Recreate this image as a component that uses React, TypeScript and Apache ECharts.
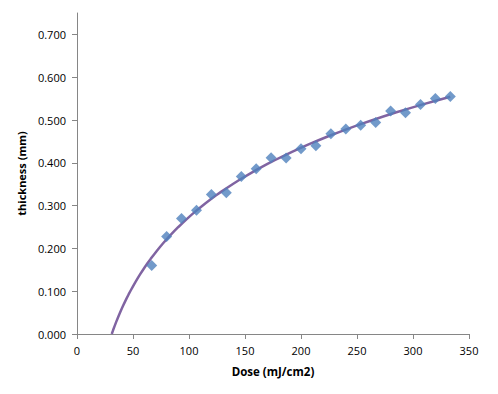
import React, { useEffect, useRef } from "react";
import * as echarts from "echarts";

const doses = [66.7, 80, 93.3, 106.7, 120, 133.3, 146.7, 160, 173.3, 186.7, 200, 213.3, 226.7, 240, 253.3, 266.7, 280, 293.3, 306.7, 320, 333.3];
const thickness = [0.160, 0.228, 0.270, 0.289, 0.326, 0.330, 0.368, 0.386, 0.412, 0.411, 0.433, 0.440, 0.468, 0.479, 0.488, 0.494, 0.521, 0.517, 0.536, 0.550, 0.555];
const yTicks = [0, 0.1, 0.2, 0.3, 0.4, 0.5, 0.6, 0.7];
const xTitle = "Dose (mJ/cm2)";
const yTitle = "thickness (mm)";

// logarithmic least-squares trendline (as in the spreadsheet), clipped at y = 0
function logFit(xs: number[], ys: number[]) {
  const n = xs.length;
  const lx = xs.map((v) => Math.log(v));
  const mx = lx.reduce((s, v) => s + v, 0) / n;
  const my = ys.reduce((s, v) => s + v, 0) / n;
  let sxy = 0;
  let sxx = 0;
  for (let i = 0; i < n; i++) {
    sxy += (lx[i] - mx) * (ys[i] - my);
    sxx += (lx[i] - mx) * (lx[i] - mx);
  }
  const a = sxy / sxx;
  const b = my - a * mx;
  return { a, b };
}

export default function App() {
  const ref = useRef<HTMLDivElement>(null);
  useEffect(() => {
    if (!ref.current) return;
    const chart = echarts.init(ref.current, null, { renderer: "svg" });
    const { a, b } = logFit(doses, thickness);
    const x0 = Math.exp(-b / a);
    const trendXs = [x0];
    const last = doses[doses.length - 1];
    const steps = 60;
    for (let i = 1; i <= steps; i++) trendXs.push(x0 * Math.pow(last / x0, i / steps));
    const trend = trendXs.map((x) => [x, Math.max(0, a * Math.log(x) + b)]);
    const font = "'Open Sans', 'Noto Sans', sans-serif";
    chart.setOption({
      animation: false,
      grid: { left: 77, right: 29, top: 13, bottom: 60, containLabel: false },
      xAxis: {
        type: "value",
        min: 0,
        max: 350,
        interval: 50,
        name: xTitle,
        nameLocation: "middle",
        nameGap: 31,
        nameTextStyle: { fontFamily: font, fontSize: 11.5, fontWeight: "bold", color: "#000" },
        splitLine: { show: false },
        axisLine: { show: true, lineStyle: { color: "#868686", width: 1 } },
        axisTick: { show: true, length: 5, lineStyle: { color: "#868686" } },
        axisLabel: { fontFamily: font, fontSize: 11, color: "#000", margin: 11 },
      },
      yAxis: {
        type: "value",
        min: 0,
        max: 0.75,
        interval: 0.1,
        name: yTitle,
        nameLocation: "middle",
        nameGap: 50,
        nameTextStyle: { fontFamily: font, fontSize: 11, fontWeight: "bold", color: "#000" },
        splitLine: { show: false },
        axisLine: { show: true, onZero: false, lineStyle: { color: "#868686", width: 1 } },
        axisTick: { show: true, length: 5, lineStyle: { color: "#868686" }, customValues: yTicks },
        axisLabel: {
          fontFamily: font,
          fontSize: 11,
          color: "#000",
          margin: 11,
          customValues: yTicks,
          formatter: (v: number) => v.toFixed(3),
        },
      },
      series: [
        {
          type: "line",
          data: trend,
          showSymbol: false,
          symbol: "none",
          smooth: false,
          lineStyle: { color: "#8064A2", width: 2.5 },
          z: 2,
        },
        {
          type: "scatter",
          data: doses.map((d, i) => [d, thickness[i]]),
          symbol: "diamond",
          symbolSize: 11,
          itemStyle: { color: "#4F81BD" },
          z: 3,
        },
      ],
    });
    return () => chart.dispose();
  }, []);
  return <div ref={ref} style={{ width: 498, height: 394, position: "absolute", left: 0, top: 0 }} />;
}
